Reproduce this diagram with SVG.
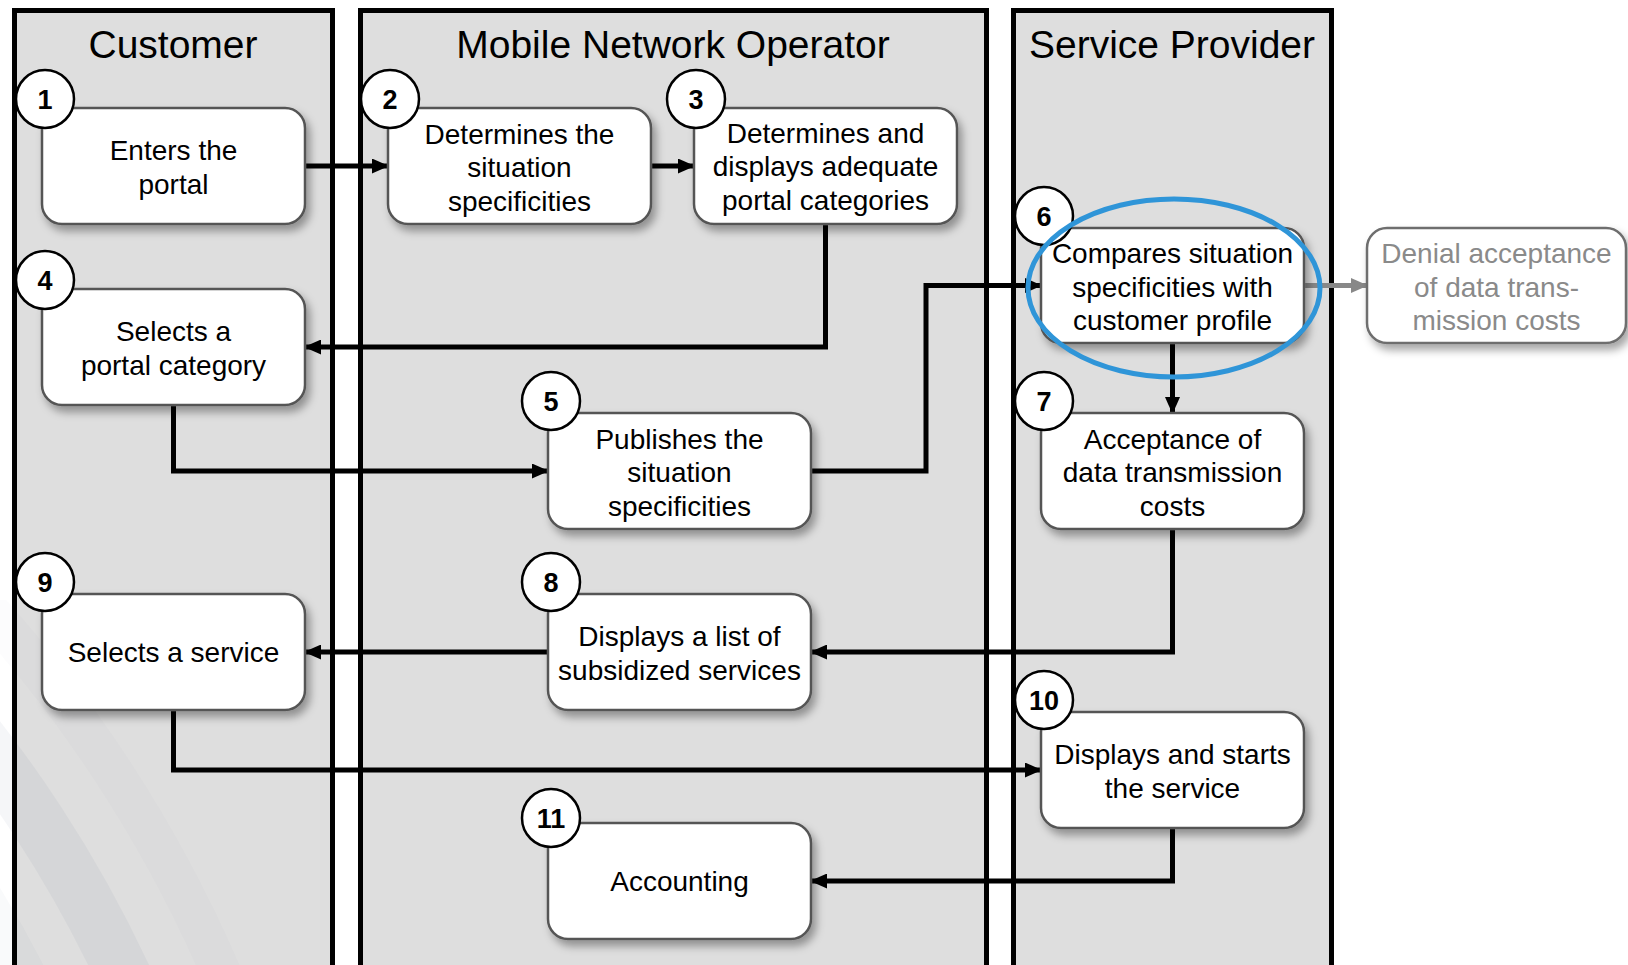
<svg xmlns="http://www.w3.org/2000/svg" width="1628" height="965" viewBox="0 0 1628 965">
<defs>
<style>
.lane{fill:#dedede;stroke:#000;stroke-width:5}
.title{font-family:"Liberation Sans",Arial,sans-serif;font-size:39px;fill:#000;text-anchor:middle}
.box{fill:#fff;stroke:#555;stroke-width:2.5;filter:url(#sh)}
.boxg{fill:#fff;stroke:#6e6e6e;stroke-width:2.5;filter:url(#sh)}
.t{font-family:"Liberation Sans",Arial,sans-serif;font-size:28px;fill:#000;text-anchor:middle}
.tg{font-family:"Liberation Sans",Arial,sans-serif;font-size:28px;fill:#8a8a8a;text-anchor:middle}
.num{fill:#fff;stroke:#000;stroke-width:2.5}
.nt{font-family:"Liberation Sans",Arial,sans-serif;font-size:27px;font-weight:bold;fill:#000;text-anchor:middle}
.c{fill:none;stroke:#000;stroke-width:5;marker-end:url(#ah)}
.cg{fill:none;stroke:#888;stroke-width:5;marker-end:url(#ahg)}
.arc{fill:none;stroke:#5a6a80}
</style>
<filter id="sh" x="-10%" y="-10%" width="130%" height="140%">
<feDropShadow dx="4" dy="6" stdDeviation="4" flood-color="#000" flood-opacity="0.35"/>
</filter>
<marker id="ah" markerUnits="userSpaceOnUse" markerWidth="17" markerHeight="15" refX="16" refY="7.5" orient="auto">
<path d="M0,0 L17,7.5 L0,15 z" fill="#000"/>
</marker>
<marker id="ahg" markerUnits="userSpaceOnUse" markerWidth="17" markerHeight="15" refX="16" refY="7.5" orient="auto">
<path d="M0,0 L17,7.5 L0,15 z" fill="#888"/>
</marker>
<clipPath id="clipL"><rect x="0" y="600" width="340" height="365"/></clipPath>
</defs>
<rect x="0" y="0" width="1628" height="965" fill="#fff"/>
<g id="lanes">
<rect class="lane" x="14.5" y="10.5" width="318" height="980"/>
<rect class="lane" x="360.5" y="10.5" width="626" height="980"/>
<rect class="lane" x="1013.5" y="10.5" width="318" height="980"/>
<text class="title" x="173" y="58">Customer</text>
<text class="title" x="673" y="58">Mobile Network Operator</text>
<text class="title" x="1172" y="58">Service Provider</text>
</g>
<g id="background-arcs" clip-path="url(#clipL)">
<circle class="arc" cx="-1000" cy="1500" r="1240" stroke-width="55" stroke-opacity="0.06"/>
<circle class="arc" cx="-1000" cy="1500" r="1150" stroke-width="45" stroke-opacity="0.035"/>
<circle class="arc" cx="-1000" cy="1500" r="1330" stroke-width="40" stroke-opacity="0.02"/>
<rect x="12" y="600" width="5" height="365" fill="#000"/>
</g>
<g id="connectors">
<path class="c" d="M305,166 H388"/>
<path class="c" d="M651,166 H694"/>
<path class="c" d="M825.5,224 V347 H305"/>
<path class="c" d="M173.5,405 V471 H548"/>
<path class="c" d="M811,471 H926 V285.5 H1041"/>
<path class="cg" d="M1304,285.5 H1367"/>
<path class="c" d="M1172.5,343 V413"/>
<path class="c" d="M1172.5,529 V652 H811"/>
<path class="c" d="M548,652 H305"/>
<path class="c" d="M173.5,710 V770 H1041"/>
<path class="c" d="M1172.5,828 V881 H811"/>
</g>
<g id="n1">
<rect class="box" x="42" y="108" width="263" height="116" rx="20"/>
<text class="t" x="173.5" y="160">Enters the</text>
<text class="t" x="173.5" y="193.5">portal</text>
<circle class="num" cx="45" cy="99" r="29"/><text class="nt" x="45" y="108.5">1</text>
</g>
<g id="n2">
<rect class="box" x="388" y="108" width="263" height="116" rx="20"/>
<text class="t" x="519.5" y="143.5">Determines the</text>
<text class="t" x="519.5" y="177">situation</text>
<text class="t" x="519.5" y="210.5">specificities</text>
<circle class="num" cx="390" cy="99" r="29"/><text class="nt" x="390" y="108.5">2</text>
</g>
<g id="n3">
<rect class="box" x="694" y="108" width="263" height="116" rx="20"/>
<text class="t" x="825.5" y="142.5">Determines and</text>
<text class="t" x="825.5" y="176">displays adequate</text>
<text class="t" x="825.5" y="209.5">portal categories</text>
<circle class="num" cx="696" cy="99" r="29"/><text class="nt" x="696" y="108.5">3</text>
</g>
<g id="n4">
<rect class="box" x="42" y="289" width="263" height="116" rx="20"/>
<text class="t" x="173.5" y="341">Selects a</text>
<text class="t" x="173.5" y="374.5">portal category</text>
<circle class="num" cx="45" cy="280" r="29"/><text class="nt" x="45" y="289.5">4</text>
</g>
<g id="n5">
<rect class="box" x="548" y="413" width="263" height="116" rx="20"/>
<text class="t" x="679.5" y="448.5">Publishes the</text>
<text class="t" x="679.5" y="482">situation</text>
<text class="t" x="679.5" y="515.5">specificities</text>
<circle class="num" cx="551" cy="401" r="29"/><text class="nt" x="551" y="410.5">5</text>
</g>
<g id="n6">
<rect class="box" x="1041" y="228" width="263" height="115" rx="20"/>
<text class="t" x="1172.5" y="263">Compares situation</text>
<text class="t" x="1172.5" y="296.5">specificities with</text>
<text class="t" x="1172.5" y="330">customer profile</text>
<circle class="num" cx="1044" cy="216" r="29"/><text class="nt" x="1044" y="225.5">6</text>
</g>
<g id="nDenial">
<rect class="boxg" x="1367" y="228" width="259" height="115" rx="20"/>
<text class="tg" x="1496.5" y="263">Denial acceptance</text>
<text class="tg" x="1496.5" y="296.5">of data trans-</text>
<text class="tg" x="1496.5" y="330">mission costs</text>
</g>
<g id="n7">
<rect class="box" x="1041" y="413" width="263" height="116" rx="20"/>
<text class="t" x="1172.5" y="448.5">Acceptance of</text>
<text class="t" x="1172.5" y="482">data transmission</text>
<text class="t" x="1172.5" y="515.5">costs</text>
<circle class="num" cx="1044" cy="401" r="29"/><text class="nt" x="1044" y="410.5">7</text>
</g>
<g id="n8">
<rect class="box" x="548" y="594" width="263" height="116" rx="20"/>
<text class="t" x="679.5" y="646">Displays a list of</text>
<text class="t" x="679.5" y="679.5">subsidized services</text>
<circle class="num" cx="551" cy="582" r="29"/><text class="nt" x="551" y="591.5">8</text>
</g>
<g id="n9">
<rect class="box" x="42" y="594" width="263" height="116" rx="20"/>
<text class="t" x="173.5" y="662">Selects a service</text>
<circle class="num" cx="45" cy="582" r="29"/><text class="nt" x="45" y="591.5">9</text>
</g>
<g id="n10">
<rect class="box" x="1041" y="712" width="263" height="116" rx="20"/>
<text class="t" x="1172.5" y="764">Displays and starts</text>
<text class="t" x="1172.5" y="797.5">the service</text>
<circle class="num" cx="1044" cy="700" r="29"/><text class="nt" x="1044" y="709.5">10</text>
</g>
<g id="n11">
<rect class="box" x="548" y="823" width="263" height="116" rx="20"/>
<text class="t" x="679.5" y="891">Accounting</text>
<circle class="num" cx="551" cy="818" r="29"/><text class="nt" x="551" y="827.5">11</text>
</g>
<ellipse id="highlight" cx="1174" cy="288" rx="146" ry="89" fill="none" stroke="#2f95d8" stroke-width="5"/>
</svg>
